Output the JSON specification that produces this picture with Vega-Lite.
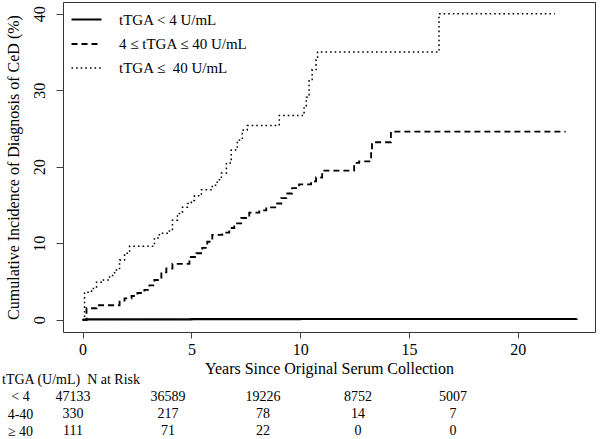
{
  "$schema": "https://vega.github.io/schema/vega-lite/v6.json",
  "padding": {"left": 2, "top": 1, "right": 4, "bottom": 0},
  "background": "white",
  "config": {
    "font": "Liberation Serif",
    "view": {"stroke": "#333", "strokeWidth": 1},
    "axis": {
      "labelFont": "Liberation Serif", "titleFont": "Liberation Serif",
      "labelFontSize": 16, "titleFontSize": 16, "labelColor": "black", "titleColor": "black",
      "titleFontWeight": "normal", "tickColor": "#444", "grid": false, "domain": false
    },
    "legend": {
      "labelFont": "Liberation Serif", "labelFontSize": 15, "labelColor": "black",
      "symbolStrokeColor": "black", "symbolType": "stroke", "padding": 0
    },
    "title": {"font": "Liberation Serif", "fontWeight": "normal", "color": "black"}
  },
  "datasets": {
    "curves": [
      {"group": "tTGA < 4 U/mL", "years": 0, "pct": 0},
      {"group": "tTGA < 4 U/mL", "years": 0.2, "pct": 0.05},
      {"group": "tTGA < 4 U/mL", "years": 5, "pct": 0.08},
      {"group": "tTGA < 4 U/mL", "years": 10, "pct": 0.1},
      {"group": "tTGA < 4 U/mL", "years": 22.7, "pct": 0.15},
      {"group": "4 ≤ tTGA ≤ 40 U/mL", "years": 0, "pct": 0},
      {"group": "4 ≤ tTGA ≤ 40 U/mL", "years": 0.18, "pct": 1.5},
      {"group": "4 ≤ tTGA ≤ 40 U/mL", "years": 0.64, "pct": 1.9},
      {"group": "4 ≤ tTGA ≤ 40 U/mL", "years": 1.7, "pct": 2.5},
      {"group": "4 ≤ tTGA ≤ 40 U/mL", "years": 1.93, "pct": 2.8},
      {"group": "4 ≤ tTGA ≤ 40 U/mL", "years": 2.25, "pct": 3.1},
      {"group": "4 ≤ tTGA ≤ 40 U/mL", "years": 2.52, "pct": 3.5},
      {"group": "4 ≤ tTGA ≤ 40 U/mL", "years": 2.84, "pct": 3.9},
      {"group": "4 ≤ tTGA ≤ 40 U/mL", "years": 3.07, "pct": 4.5},
      {"group": "4 ≤ tTGA ≤ 40 U/mL", "years": 3.3, "pct": 5.2},
      {"group": "4 ≤ tTGA ≤ 40 U/mL", "years": 3.62, "pct": 6.2},
      {"group": "4 ≤ tTGA ≤ 40 U/mL", "years": 3.85, "pct": 6.7},
      {"group": "4 ≤ tTGA ≤ 40 U/mL", "years": 4.13, "pct": 7.3},
      {"group": "4 ≤ tTGA ≤ 40 U/mL", "years": 4.91, "pct": 8.2},
      {"group": "4 ≤ tTGA ≤ 40 U/mL", "years": 5.23, "pct": 8.7},
      {"group": "4 ≤ tTGA ≤ 40 U/mL", "years": 5.5, "pct": 9.4},
      {"group": "4 ≤ tTGA ≤ 40 U/mL", "years": 5.73, "pct": 10.2},
      {"group": "4 ≤ tTGA ≤ 40 U/mL", "years": 5.96, "pct": 11.1},
      {"group": "4 ≤ tTGA ≤ 40 U/mL", "years": 6.42, "pct": 11.4},
      {"group": "4 ≤ tTGA ≤ 40 U/mL", "years": 6.74, "pct": 12.0},
      {"group": "4 ≤ tTGA ≤ 40 U/mL", "years": 6.97, "pct": 12.6},
      {"group": "4 ≤ tTGA ≤ 40 U/mL", "years": 7.29, "pct": 13.3},
      {"group": "4 ≤ tTGA ≤ 40 U/mL", "years": 7.66, "pct": 14.0},
      {"group": "4 ≤ tTGA ≤ 40 U/mL", "years": 8.12, "pct": 14.3},
      {"group": "4 ≤ tTGA ≤ 40 U/mL", "years": 8.44, "pct": 14.7},
      {"group": "4 ≤ tTGA ≤ 40 U/mL", "years": 8.9, "pct": 15.2},
      {"group": "4 ≤ tTGA ≤ 40 U/mL", "years": 9.13, "pct": 15.9},
      {"group": "4 ≤ tTGA ≤ 40 U/mL", "years": 9.36, "pct": 16.5},
      {"group": "4 ≤ tTGA ≤ 40 U/mL", "years": 9.63, "pct": 17.2},
      {"group": "4 ≤ tTGA ≤ 40 U/mL", "years": 9.95, "pct": 17.7},
      {"group": "4 ≤ tTGA ≤ 40 U/mL", "years": 10.5, "pct": 18.1},
      {"group": "4 ≤ tTGA ≤ 40 U/mL", "years": 10.73, "pct": 18.6},
      {"group": "4 ≤ tTGA ≤ 40 U/mL", "years": 11.01, "pct": 19.5},
      {"group": "4 ≤ tTGA ≤ 40 U/mL", "years": 12.48, "pct": 20.5},
      {"group": "4 ≤ tTGA ≤ 40 U/mL", "years": 12.71, "pct": 20.7},
      {"group": "4 ≤ tTGA ≤ 40 U/mL", "years": 13.26, "pct": 22.2},
      {"group": "4 ≤ tTGA ≤ 40 U/mL", "years": 13.3, "pct": 23.2},
      {"group": "4 ≤ tTGA ≤ 40 U/mL", "years": 14.17, "pct": 24.6},
      {"group": "4 ≤ tTGA ≤ 40 U/mL", "years": 22.2, "pct": 24.6},
      {"group": "tTGA ≤\u00a0 40 U/mL", "years": 0, "pct": 0},
      {"group": "tTGA ≤\u00a0 40 U/mL", "years": 0.09, "pct": 3.6},
      {"group": "tTGA ≤\u00a0 40 U/mL", "years": 0.41, "pct": 4.1},
      {"group": "tTGA ≤\u00a0 40 U/mL", "years": 0.64, "pct": 4.9},
      {"group": "tTGA ≤\u00a0 40 U/mL", "years": 0.92, "pct": 5.2},
      {"group": "tTGA ≤\u00a0 40 U/mL", "years": 1.24, "pct": 5.8},
      {"group": "tTGA ≤\u00a0 40 U/mL", "years": 1.47, "pct": 6.5},
      {"group": "tTGA ≤\u00a0 40 U/mL", "years": 1.7, "pct": 7.8},
      {"group": "tTGA ≤\u00a0 40 U/mL", "years": 1.93, "pct": 8.7},
      {"group": "tTGA ≤\u00a0 40 U/mL", "years": 2.16, "pct": 9.6},
      {"group": "tTGA ≤\u00a0 40 U/mL", "years": 3.3, "pct": 10.7},
      {"group": "tTGA ≤\u00a0 40 U/mL", "years": 3.53, "pct": 11.3},
      {"group": "tTGA ≤\u00a0 40 U/mL", "years": 3.99, "pct": 11.6},
      {"group": "tTGA ≤\u00a0 40 U/mL", "years": 4.13, "pct": 13.0},
      {"group": "tTGA ≤\u00a0 40 U/mL", "years": 4.36, "pct": 13.9},
      {"group": "tTGA ≤\u00a0 40 U/mL", "years": 4.59, "pct": 14.7},
      {"group": "tTGA ≤\u00a0 40 U/mL", "years": 4.82, "pct": 15.2},
      {"group": "tTGA ≤\u00a0 40 U/mL", "years": 5.0, "pct": 15.6},
      {"group": "tTGA ≤\u00a0 40 U/mL", "years": 5.14, "pct": 16.2},
      {"group": "tTGA ≤\u00a0 40 U/mL", "years": 5.46, "pct": 17.0},
      {"group": "tTGA ≤\u00a0 40 U/mL", "years": 5.96, "pct": 17.6},
      {"group": "tTGA ≤\u00a0 40 U/mL", "years": 6.19, "pct": 18.3},
      {"group": "tTGA ≤\u00a0 40 U/mL", "years": 6.38, "pct": 19.2},
      {"group": "tTGA ≤\u00a0 40 U/mL", "years": 6.61, "pct": 20.5},
      {"group": "tTGA ≤\u00a0 40 U/mL", "years": 6.83, "pct": 22.2},
      {"group": "tTGA ≤\u00a0 40 U/mL", "years": 7.11, "pct": 23.5},
      {"group": "tTGA ≤\u00a0 40 U/mL", "years": 7.34, "pct": 24.8},
      {"group": "tTGA ≤\u00a0 40 U/mL", "years": 7.57, "pct": 25.4},
      {"group": "tTGA ≤\u00a0 40 U/mL", "years": 9.04, "pct": 26.7},
      {"group": "tTGA ≤\u00a0 40 U/mL", "years": 10.18, "pct": 27.8},
      {"group": "tTGA ≤\u00a0 40 U/mL", "years": 10.28, "pct": 29.1},
      {"group": "tTGA ≤\u00a0 40 U/mL", "years": 10.41, "pct": 31.4},
      {"group": "tTGA ≤\u00a0 40 U/mL", "years": 10.55, "pct": 32.7},
      {"group": "tTGA ≤\u00a0 40 U/mL", "years": 10.73, "pct": 34.0},
      {"group": "tTGA ≤\u00a0 40 U/mL", "years": 10.8, "pct": 35.0},
      {"group": "tTGA ≤\u00a0 40 U/mL", "years": 16.38, "pct": 40.0},
      {"group": "tTGA ≤\u00a0 40 U/mL", "years": 21.7, "pct": 40.0}
    ],
    "risk": [
      {"tTGA": "< 4", "years": 0, "n": 47133},
      {"tTGA": "< 4", "years": 5, "n": 36589},
      {"tTGA": "< 4", "years": 10, "n": 19226},
      {"tTGA": "< 4", "years": 15, "n": 8752},
      {"tTGA": "< 4", "years": 20, "n": 5007},
      {"tTGA": "4-40", "years": 0, "n": 330},
      {"tTGA": "4-40", "years": 5, "n": 217},
      {"tTGA": "4-40", "years": 10, "n": 78},
      {"tTGA": "4-40", "years": 15, "n": 14},
      {"tTGA": "4-40", "years": 20, "n": 7},
      {"tTGA": "≥ 40", "years": 0, "n": 111},
      {"tTGA": "≥ 40", "years": 5, "n": 71},
      {"tTGA": "≥ 40", "years": 10, "n": 22},
      {"tTGA": "≥ 40", "years": 15, "n": 0},
      {"tTGA": "≥ 40", "years": 20, "n": 0}
    ]
  },
  "bounds": "flush",
  "spacing": 56,
  "vconcat": [
    {
      "width": 532,
      "height": 330,
      "view": {"stroke": "#333", "strokeWidth": 1},
      "data": {"name": "curves"},
      "mark": {"type": "line", "interpolate": "step-after", "color": "black", "clip": true},
      "encoding": {
        "x": {
          "field": "years", "type": "quantitative",
          "scale": {"domain": [-0.9, 23.55], "nice": false, "zero": false},
          "axis": {"values": [0, 5, 10, 15, 20], "title": "Years Since Original Serum Collection",
                   "tickSize": 6, "labelPadding": 3, "titlePadding": 3}
        },
        "y": {
          "field": "pct", "type": "quantitative",
          "scale": {"domain": [-1.6, 41.54], "nice": false, "zero": false},
          "axis": {"values": [0, 10, 20, 30, 40], "title": "Cumulative Incidence of Diagnosis of CeD (%)",
                   "tickSize": 7, "labelAngle": -90, "labelAlign": "center", "labelBaseline": "bottom",
                   "labelPadding": 9, "titlePadding": 10}
        },
        "strokeDash": {
          "field": "group", "type": "nominal",
          "scale": {"domain": ["tTGA < 4 U/mL", "4 ≤ tTGA ≤ 40 U/mL", "tTGA ≤\u00a0 40 U/mL"],
                    "range": [[1, 0], [6, 4], [1.6, 3]]},
          "legend": {"title": null, "orient": "none", "legendX": 7, "legendY": 1,
                     "symbolSize": 900, "labelOffset": 16, "rowPadding": -14}
        },
        "strokeWidth": {
          "field": "group", "type": "nominal",
          "scale": {"domain": ["tTGA < 4 U/mL", "4 ≤ tTGA ≤ 40 U/mL", "tTGA ≤\u00a0 40 U/mL"],
                    "range": [2.2, 1.5, 1.8]},
          "legend": {"title": null, "orient": "none", "legendX": 7, "legendY": 1,
                     "symbolSize": 900, "labelOffset": 16, "rowPadding": -14}
        }
      }
    },
    {
      "width": 400,
      "height": 52,
      "view": {"stroke": null},
      "data": {"name": "risk"},
      "title": {"text": "tTGA (U/mL)\u00a0 N at Risk", "anchor": "start", "frame": "group", "dx": -61, "fontSize": 14, "offset": 1},
      "mark": {"type": "text", "font": "Liberation Serif", "fontSize": 14, "color": "black"},
      "encoding": {
        "x": {"field": "years", "type": "ordinal", "scale": {"type": "point", "padding": 0.105}, "axis": null},
        "y": {
          "field": "tTGA", "type": "nominal", "sort": ["< 4", "4-40", "≥ 40"],
          "scale": {"paddingInner": 0, "paddingOuter": 0},
          "axis": {"title": null, "ticks": false, "tickSize": 0, "labelAlign": "center",
                   "labelPadding": 43, "labelFontSize": 14}
        },
        "text": {"field": "n", "type": "quantitative", "format": "d"}
      }
    }
  ]
}
